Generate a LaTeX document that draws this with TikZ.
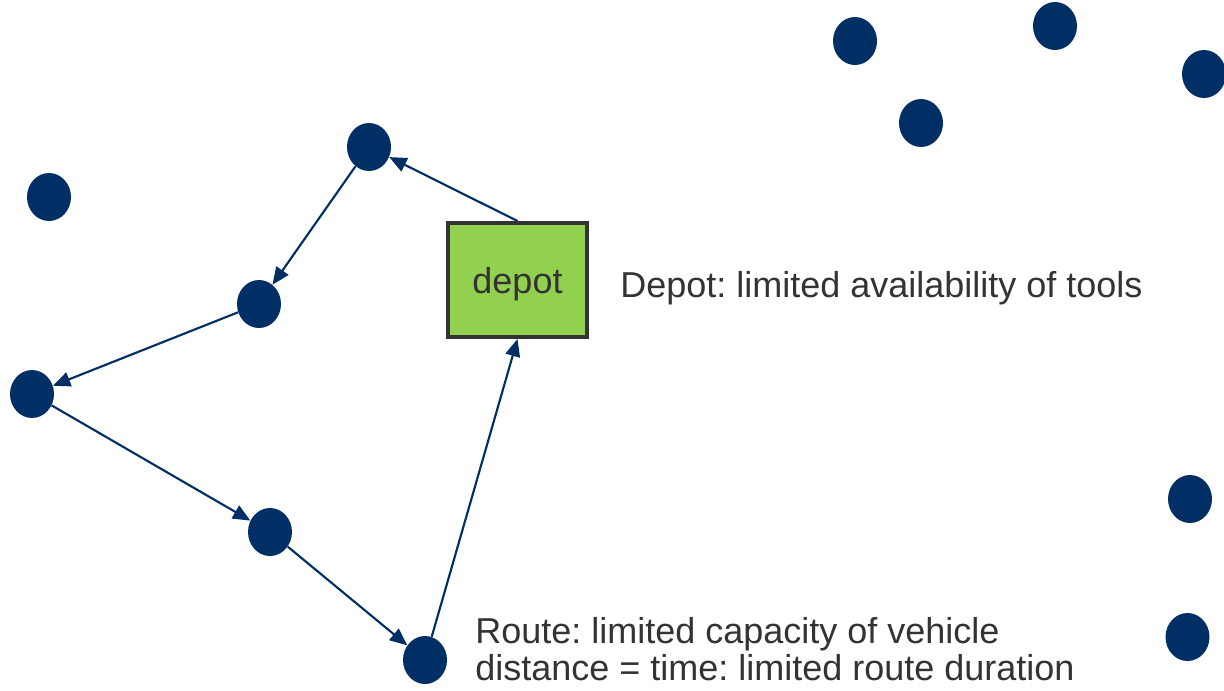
\documentclass[tikz,border=0pt]{standalone}
\usepackage{fontspec}
\setmainfont{Liberation Sans}
\usetikzlibrary{shapes.geometric,arrows.meta}
\definecolor{navy}{HTML}{002F65}
\definecolor{depotgreen}{HTML}{92D050}
\definecolor{ink}{HTML}{333333}
\frenchspacing
\begin{document}
\begin{tikzpicture}[x=0.75pt,y=-0.75pt,
  stop/.style={ellipse,fill=navy,minimum width=33pt,minimum height=36pt,inner sep=0pt},
  depotbox/.style={rectangle,draw=ink,line width=3pt,fill=depotgreen,
    minimum width=104.25pt,minimum height=85.5pt,inner sep=0pt,text depth=0pt,
    font=\fontsize{27}{32}\selectfont,text=ink},
  leg/.style={navy,line width=1.6pt,-{Triangle[length=13pt,width=11pt]}},
  note/.style={anchor=base west,inner sep=0pt,text=ink,align=left,
    font=\fontsize{27}{27.75}\selectfont}]
\useasboundingbox (0,0) rectangle (1224,690);

% depot
\node[depotbox] (depot) at (517.5,280) {depot};

% customers on the route
\node[stop] (r1) at (369,147) {};
\node[stop] (r2) at (259,304) {};
\node[stop] (r3) at (32,394) {};
\node[stop] (r4) at (270,532) {};
\node[stop] (r5) at (425,660) {};

% customers not visited
\node[stop] (u1) at (49,197) {};
\node[stop] (u2) at (855,41) {};
\node[stop] (u3) at (1055,26) {};
\node[stop] (u4) at (921,123) {};
\node[stop] (u5) at (1204,74) {};
\node[stop] (u6) at (1190,499) {};
\node[stop] (u7) at (1187.5,637) {};

% the route
\draw[leg] (depot.north) -- (r1);
\draw[leg] (r1) -- (r2);
\draw[leg] (r2) -- (r3);
\draw[leg] (r3) -- (r4);
\draw[leg] (r4) -- (r5);
\draw[leg] (r5) -- (depot.south);

% annotations (base anchor of a two-line node sits on its last line)
\node[note] (depotnote) at (620,297) {Depot: limited availability of tools};
\node[note] (routenote) at (475,680) {Route: limited capacity of vehicle\\distance = time: limited route duration};
\end{tikzpicture}
\end{document}
